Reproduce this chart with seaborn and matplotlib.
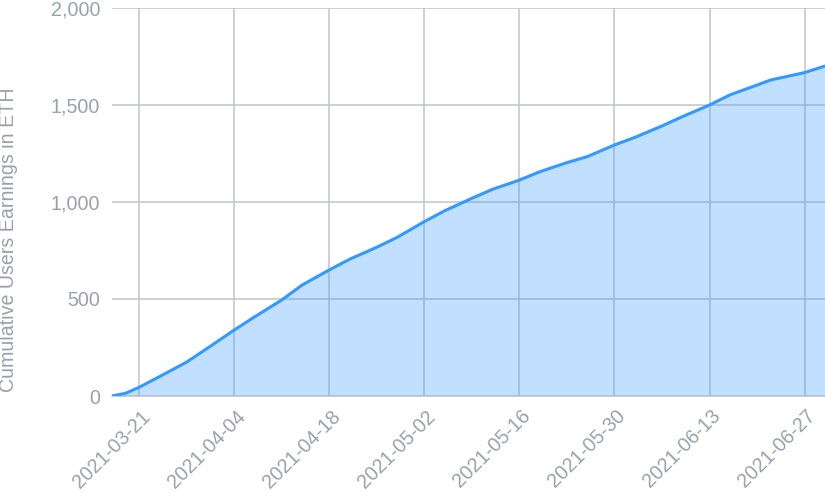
import matplotlib
matplotlib.use("Agg")
import matplotlib.pyplot as plt
import matplotlib.transforms as mtransforms
import seaborn as sns
import pandas as pd

dates = ["2021-03-17", "2021-03-19", "2021-03-21", "2021-03-24", "2021-03-28",
         "2021-03-31", "2021-04-04", "2021-04-07", "2021-04-11", "2021-04-14",
         "2021-04-18", "2021-04-21", "2021-04-25", "2021-04-28", "2021-05-02",
         "2021-05-05", "2021-05-09", "2021-05-12", "2021-05-16", "2021-05-19",
         "2021-05-23", "2021-05-26", "2021-05-30", "2021-06-02", "2021-06-06",
         "2021-06-09", "2021-06-13", "2021-06-16", "2021-06-20", "2021-06-22",
         "2021-06-27", "2021-06-30"]
earnings = [0, 14, 45, 100, 175, 245, 340, 408, 495, 572,
            650, 705, 767, 818, 899, 955, 1019, 1065, 1113, 1156,
            1203, 1234, 1294, 1333, 1392, 1440, 1500, 1552, 1603, 1629,
            1667, 1701]
tick_dates = ["2021-03-21", "2021-04-04", "2021-04-18", "2021-05-02",
              "2021-05-16", "2021-05-30", "2021-06-13", "2021-06-27"]
y_ticks = [0, 500, 1000, 1500, 2000]

df = pd.DataFrame({"date": pd.to_datetime(dates), "earnings": earnings})

sns.set_theme(style="white")
plt.rcParams["font.family"] = ["Liberation Sans", "DejaVu Sans"]

W, H = 825, 493
fig = plt.figure(figsize=(W / 100, H / 100), dpi=100)
ax = fig.add_axes([112 / W, 1 - 396 / H, (W - 112) / W, (396 - 8) / H])

text_c = "#9aa0ac"
grid_c = "#c0c3ca"
line_c = "#3399ff"
fs = 14.1

ax.set_axisbelow(True)
ax.grid(True, color=grid_c, linewidth=1.1)
sns.lineplot(data=df, x="date", y="earnings", ax=ax, color=line_c, linewidth=2.2, zorder=3)
ax.fill_between(df["date"], df["earnings"], color=line_c, alpha=0.3, linewidth=0, zorder=2)

ax.set_xlim(df["date"].iloc[0], df["date"].iloc[-1])
ax.set_ylim(0, 2000)
ax.set_yticks(y_ticks)
ax.set_yticklabels([f"{v:,}" for v in y_ticks])
ax.set_xticks(pd.to_datetime(tick_dates))
ax.set_xticklabels(tick_dates)

for s in ["left", "right", "top"]:
    ax.spines[s].set_visible(False)
ax.spines["bottom"].set_color(grid_c)
ax.spines["bottom"].set_linewidth(1.1)

ax.tick_params(axis="both", length=0, labelsize=fs, labelcolor=text_c)
ax.tick_params(axis="y", pad=8.6)
ax.tick_params(axis="x", pad=12.5)

offset = mtransforms.ScaledTranslation(8 / 100, 0, fig.dpi_scale_trans)
for lbl in ax.get_xticklabels():
    lbl.set_rotation(45)
    lbl.set_ha("right")
    lbl.set_va("center")
    lbl.set_rotation_mode("anchor")
    lbl.set_transform(lbl.get_transform() + offset)

ax.set_xlabel("")
ax.set_ylabel("Cumulative Users Earnings in ETH", fontsize=fs, color=text_c)
ax.yaxis.set_label_coords(18 / W, 1 - 240 / H, transform=fig.transFigure)

fig.savefig("out.png", dpi=100)
